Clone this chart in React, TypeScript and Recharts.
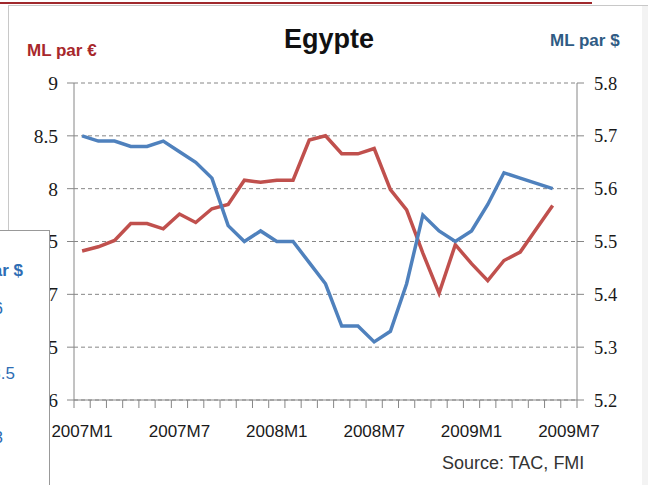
import { LineChart, Line, XAxis, YAxis, CartesianGrid } from 'recharts';

const MONTHS = [
    '2007M1', '2007M2', '2007M3', '2007M4', '2007M5', '2007M6', '2007M7', '2007M8',
    '2007M9', '2007M10', '2007M11', '2007M12', '2008M1', '2008M2', '2008M3', '2008M4',
    '2008M5', '2008M6', '2008M7', '2008M8', '2008M9', '2008M10', '2008M11', '2008M12',
    '2009M1', '2009M2', '2009M3', '2009M4', '2009M5', '2009M6', '2009M7',
];

// livres egyptiennes par euro (axe gauche)
const EUR = [
    7.41, 7.45, 7.51, 7.67, 7.67, 7.62, 7.76, 7.68, 7.81, 7.85,
    8.08, 8.06, 8.08, 8.08, 8.46, 8.5, 8.33, 8.33, 8.38, 7.99,
    7.8, 7.39, 7.01, 7.47, 7.29, 7.13, 7.32, 7.4, 7.62, 7.84,
];

// livres egyptiennes par dollar (axe droit)
const USD = [
    5.7, 5.69, 5.69, 5.68, 5.68, 5.69, 5.67, 5.65, 5.62, 5.53,
    5.5, 5.52, 5.5, 5.5, 5.46, 5.42, 5.34, 5.34, 5.31, 5.33,
    5.42, 5.55, 5.52, 5.5, 5.52, 5.57, 5.63, 5.62, 5.61, 5.6,
];

const EUR_TICKS = [6, 6.5, 7, 7.5, 8, 8.5, 9];
const USD_TICKS = [5.2, 5.3, 5.4, 5.5, 5.6, 5.7, 5.8];

const data = MONTHS.map((m, i) => ({
    month: m,
    eur: EUR[i] ?? null,
    usd: USD[i] ?? null,
}));

const W = 648;
const H = 485;
const MARGIN = { top: 83, right: 21, bottom: 55, left: 34 };
const LEFT_W = 40;
const RIGHT_W = 50;
const PLOT_W = W - MARGIN.left - MARGIN.right - LEFT_W - RIGHT_W;
// largeur d'une categorie (points au milieu, comme Excel)
const BAND = PLOT_W / MONTHS.length;

const AXIS = '#868686';
const RED = '#C0504D';
const BLUE = '#4F81BD';

function MonthTick(props: any) {
    const { x, y, payload, index } = props;
    const left = x - BAND / 2;
    return (
        <g>
            <line x1={left} x2={left} y1={y} y2={y + 8} stroke={AXIS} />
            {index === MONTHS.length - 1 && (
                <line x1={x + BAND / 2} x2={x + BAND / 2} y1={y} y2={y + 8} stroke={AXIS} />
            )}
            {index % 6 === 0 && (
                <text
                    x={x}
                    y={y + 37}
                    textAnchor="middle"
                    fontFamily="Liberation Sans"
                    fontSize={17}
                    fill="#1a1a1a"
                >
                    {payload.value}
                </text>
            )}
        </g>
    );
}

const leftTick = { fontFamily: 'Liberation Serif', fontSize: 19.5, fill: '#1a1a1a' };
const rightTick = { fontFamily: 'Liberation Serif', fontSize: 18.5, fill: '#1a1a1a' };

export default function App() {
    return (
        <div style={{ position: 'absolute', left: 0, top: 0, width: W, height: H, background: '#fff', overflow: 'hidden' }}>
            {/* bandeau du haut */}
            <div style={{ position: 'absolute', left: 0, top: 2, width: 592, height: 2, background: '#A0282C' }} />
            <div style={{ position: 'absolute', left: 8, top: 5, width: 640, height: 1, background: '#c8c8c8' }} />
            <div style={{ position: 'absolute', left: 8, top: 5, width: 1, height: 480, background: '#c8c8c8' }} />
            <div style={{ position: 'absolute', left: 642, top: 6, width: 6, height: 479, background: '#f3f3f3' }} />

            <div style={{ position: 'absolute', left: 0, top: 0 }}>
                <LineChart width={W} height={H} data={data} margin={MARGIN}>
                    <CartesianGrid vertical={false} stroke={AXIS} strokeDasharray="4 3" yAxisId="eur" />
                    <XAxis
                        dataKey="month"
                        interval={0}
                        padding={{ left: BAND / 2, right: BAND / 2 }}
                        tickLine={false}
                        tickSize={0}
                        tickMargin={0}
                        height={30}
                        axisLine={{ stroke: AXIS }}
                        tick={<MonthTick />}
                    />
                    <YAxis
                        yAxisId="eur"
                        orientation="left"
                        width={LEFT_W}
                        domain={[6, 9]}
                        ticks={EUR_TICKS}
                        tickSize={7}
                        tickMargin={9}
                        axisLine={{ stroke: AXIS }}
                        tickLine={{ stroke: AXIS }}
                        tick={leftTick}
                    />
                    <YAxis
                        yAxisId="usd"
                        orientation="right"
                        width={RIGHT_W}
                        domain={[5.2, 5.8]}
                        ticks={USD_TICKS}
                        tickFormatter={(v: number) => v.toFixed(1)}
                        tickSize={7}
                        tickMargin={10}
                        axisLine={{ stroke: AXIS }}
                        tickLine={{ stroke: AXIS }}
                        tick={rightTick}
                    />
                    <Line
                        yAxisId="eur"
                        dataKey="eur"
                        type="linear"
                        stroke={RED}
                        strokeWidth={3.5}
                        dot={false}
                        isAnimationActive={false}
                    />
                    <Line
                        yAxisId="usd"
                        dataKey="usd"
                        type="linear"
                        stroke={BLUE}
                        strokeWidth={3.5}
                        dot={false}
                        isAnimationActive={false}
                    />
                </LineChart>
            </div>

            <div style={{ position: 'absolute', left: 0, width: 658, top: 24, textAlign: 'center', fontFamily: 'Liberation Sans', fontWeight: 700, fontSize: 27, color: '#111' }}>
                Egypte
            </div>
            <div style={{ position: 'absolute', left: 27, top: 41, fontFamily: 'Liberation Sans', fontWeight: 700, fontSize: 17, color: '#A8282C' }}>
                ML par €
            </div>
            <div style={{ position: 'absolute', left: 550, top: 31, fontFamily: 'Liberation Sans', fontWeight: 700, fontSize: 17, color: '#2F5B84' }}>
                ML par $
            </div>
            <div style={{ position: 'absolute', left: 442, top: 453, fontFamily: 'Liberation Sans', fontSize: 18, color: '#333' }}>
                Source: TAC, FMI
            </div>

            {/* fenetre d'un autre graphique posee par-dessus */}
            <div style={{ position: 'absolute', left: 0, top: 230, width: 49, height: 260, background: '#fff', borderTop: '1px solid #999', borderRight: '1px solid #999', overflow: 'hidden', fontFamily: 'Liberation Sans', color: '#2E6DB4' }}>
                <div style={{ position: 'absolute', right: 26, top: 30, fontWeight: 700, fontSize: 17, whiteSpace: 'nowrap' }}>ML par $</div>
                <div style={{ position: 'absolute', right: 46, top: 68, fontSize: 17, whiteSpace: 'nowrap' }}>6</div>
                <div style={{ position: 'absolute', right: 34, top: 133, fontSize: 17, whiteSpace: 'nowrap' }}>3.5</div>
                <div style={{ position: 'absolute', right: 46, top: 197, fontSize: 17, whiteSpace: 'nowrap' }}>3</div>
            </div>
        </div>
    );
}
